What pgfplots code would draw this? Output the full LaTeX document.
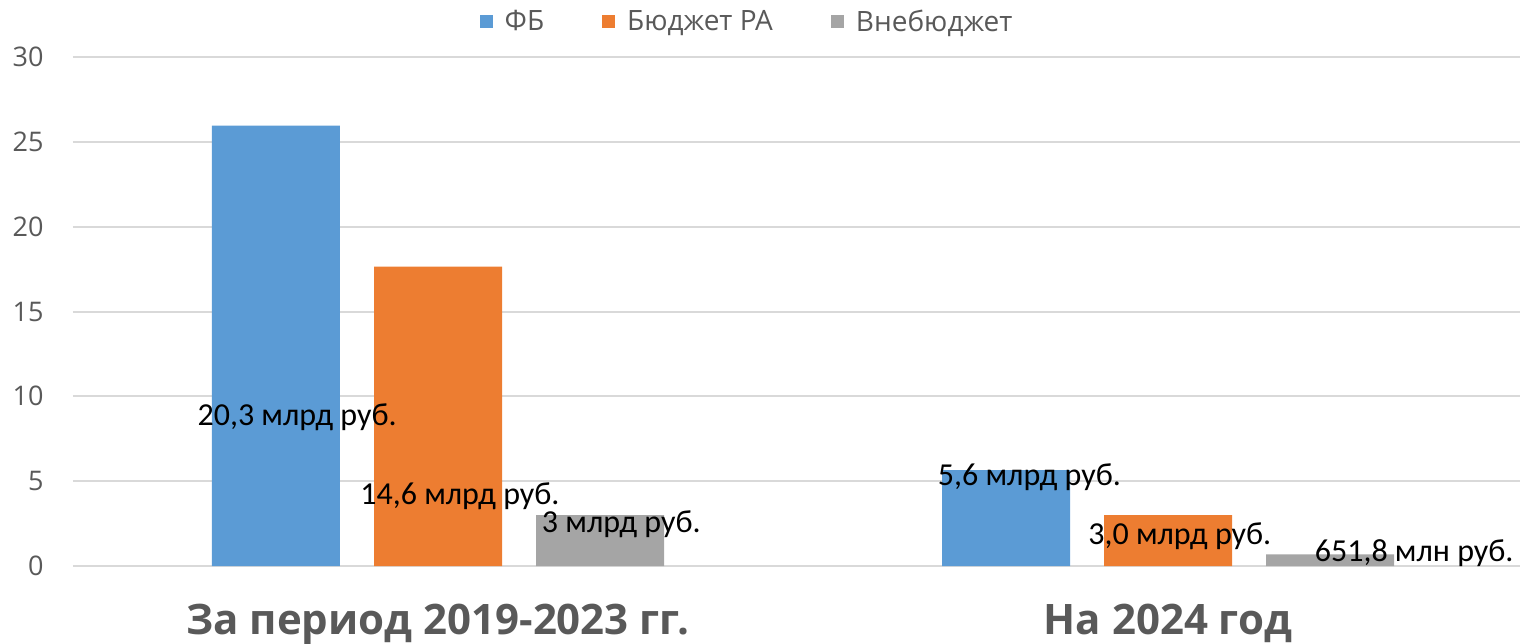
\documentclass[border=0pt]{standalone}
\usepackage{fontspec}
\setmainfont{Open Sans}
\newfontfamily\carlito{Carlito}
\usepackage{pgfplots}
\pgfplotsset{compat=1.18}
\definecolor{cfb}{HTML}{5B9BD5}
\definecolor{cra}{HTML}{ED7D31}
\definecolor{cvb}{HTML}{A5A5A5}
\definecolor{ctxt}{HTML}{595959}
\definecolor{cgrid}{HTML}{D9D9D9}
\begin{document}
\begin{tikzpicture}
\path[use as bounding box] (0pt,0pt) rectangle (760pt,321.5pt);
\begin{axis}[
  at={(36.5pt,38.5pt)}, anchor=south west,
  scale only axis, width=723.5pt, height=254.5pt,
  xmin=-0.5, xmax=1.482, ymin=0, ymax=30,
  ytick={0,5,...,30},
  xtick={0,1},
  xticklabels={За период 2019-2023 гг., На 2024 год},
  axis line style={draw=none},
  major tick length=0pt,
  ymajorgrids, grid style={cgrid, line width=1pt},
  /pgf/number format/assume math mode=true,
  yticklabel style={anchor=east, inner sep=0pt, xshift=-14.5pt, font=\fontsize{13.5}{16}\selectfont, text=ctxt},
  xticklabel style={anchor=base, inner sep=0pt, yshift=-34pt, font=\fontsize{21}{25}\selectfont\bfseries, text=ctxt},
  ybar, bar width=0.1753,
  legend style={at={(rel axis cs:0.4665,1.0688)}, anchor=center, draw=none, fill=none,
    legend columns=-1, font=\fontsize{14}{16}\selectfont, text=ctxt,
    /tikz/every odd column/.append style={column sep=4pt},
    /tikz/every even column/.append style={column sep=27pt}},
  legend image code/.code={\fill[#1] (0pt,-3.25pt) rectangle (6.5pt,3.25pt);},
  clip=false,
]
\addplot[fill=cfb, draw=none, bar shift=-0.222] coordinates {(0,25.95) (1,5.65)};
\addplot[fill=cra, draw=none, bar shift=0] coordinates {(0,17.65) (1,3.0)};
\addplot[fill=cvb, draw=none, bar shift=0.222] coordinates {(0,3.0) (1,0.68)};
\legend{ФБ, Бюджет РА, Внебюджет}
\begin{scope}[every node/.style={anchor=base, inner sep=0pt, font=\carlito\fontsize{16}{19}\selectfont, text=black}]
\node at (axis cs:-0.193,8.31) {20,3 млрд руб.};
\node at (axis cs:0.030,3.60) {14,6 млрд руб.};
\node at (axis cs:0.251,2.00) {3 млрд руб.};
\node at (axis cs:0.810,4.77) {5,6 млрд руб.};
\node at (axis cs:1.016,1.24) {3,0 млрд руб.};
\node at (axis cs:1.337,0.24) {651,8 млн руб.};
\end{scope}
\end{axis}
\end{tikzpicture}
\end{document}
